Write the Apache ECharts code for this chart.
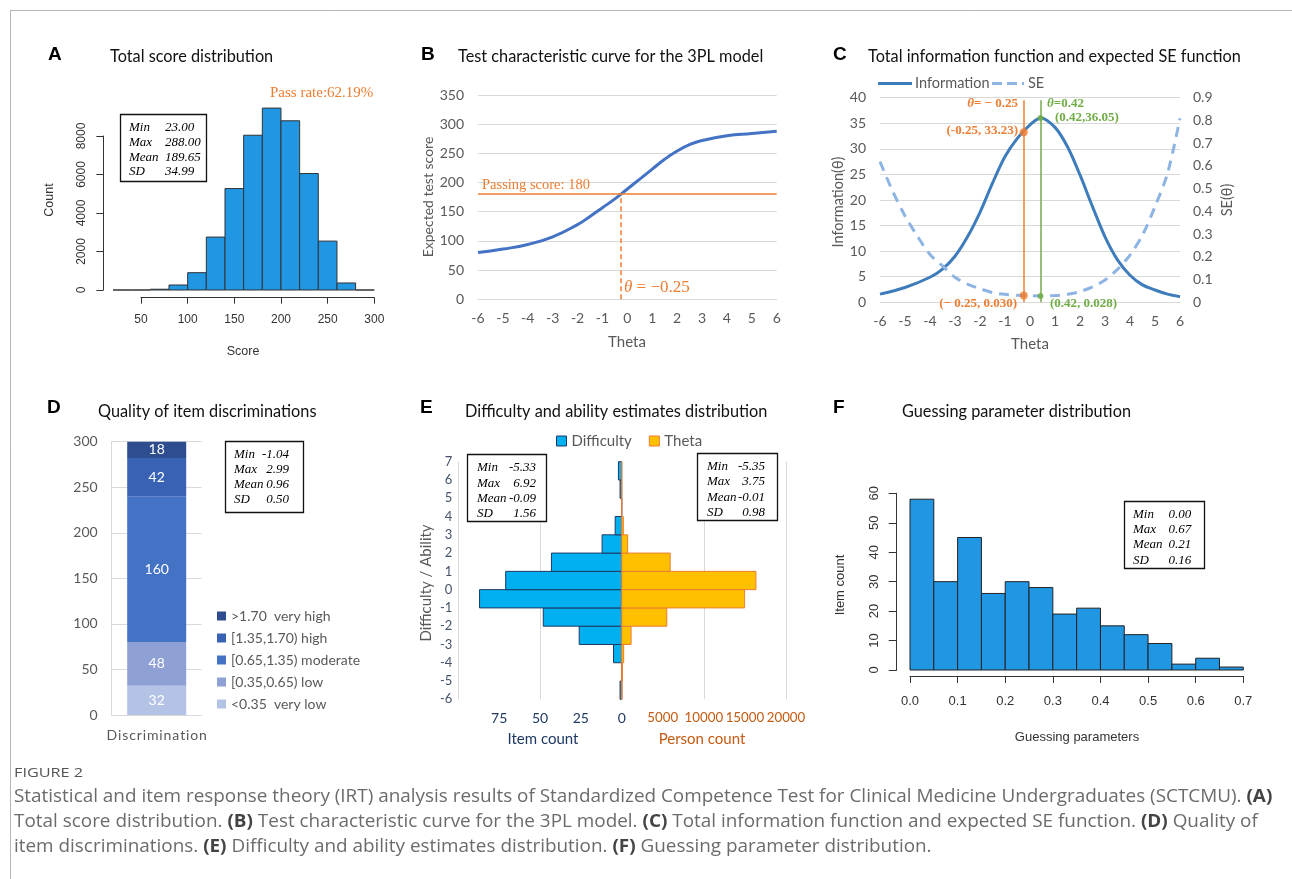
<!DOCTYPE html>
<html>
<head>
<meta charset="utf-8">
<script src="https://cdn.jsdelivr.net/npm/echarts@6.0.0/dist/echarts.min.js"></script>
<style>
  html, body { margin: 0; padding: 0; background: #fff; }
  #chart { width: 1292px; height: 879px; }
</style>
</head>
<body>
<div id="chart"></div>
<script>
// ---- A: total score histogram
const scoreBinStart = [20, 40, 60, 80, 100, 120, 140, 160, 180, 200, 220, 240, 260, 280];
const scoreBinWidth = 20;
const scoreCounts = [0, 0, 40, 260, 900, 2750, 5270, 8040, 9450, 8790, 6050, 2540, 365, 0];
const passScore = 180;

// ---- B: test characteristic curve
const tccTheta = [-6, -5, -4, -3, -2, -1.5, -1, -0.5, 0, 0.5, 1, 1.5, 2, 2.5, 3, 4, 5, 6];
const tccScore = [80, 86, 94, 107, 128, 142, 157, 172, 189, 206, 223, 240, 254, 265, 272, 280, 284, 288];
const passTheta = -0.25;

// ---- C: information and SE
const infoTheta = [-6, -5, -4, -3.5, -3, -2.5, -2, -1.5, -1, -0.5, 0, 0.42, 1, 1.5, 2, 2.5, 3, 3.5, 4, 4.5, 5, 5.5, 6];
const infoValue = [1.6, 2.9, 4.9, 6.5, 9.0, 12.8, 17.6, 23.3, 28.5, 32.1, 34.7, 36.05, 34.2, 30.4, 24.9, 18.7, 12.8, 8.3, 5.3, 3.4, 2.4, 1.6, 1.1];
const seTheta = [-6, -5.5, -5, -4.5, -4, -3.5, -3, -2.5, -2, -1.5, -1, -0.5, -0.25, 0, 0.42, 1, 1.5, 2, 2.5, 3, 3.5, 4, 4.5, 5, 5.5, 6];
const seValue = [0.619, 0.49, 0.38, 0.29, 0.21, 0.16, 0.11, 0.08, 0.06, 0.043, 0.035, 0.031, 0.030, 0.029, 0.028, 0.030, 0.035, 0.047, 0.068, 0.098, 0.145, 0.208, 0.296, 0.421, 0.567, 0.809];
const peakTheta = 0.42;
const infoMarks = [[-0.25, 33.23], [0.42, 36.05]];
const seMarks = [[-0.25, 0.030], [0.42, 0.028]];

// ---- D: discrimination quality (bottom to top)
const discNames = ['<0.35  very low', '[0.35,0.65) low', '[0.65,1.35) moderate', '[1.35,1.70) high', '>1.70  very high'];
const discCounts = [32, 48, 160, 42, 18];
const discColors = ['#B4C2E6', '#8FA0D4', '#4472C4', '#3A62B4', '#2E4D8E'];

// ---- E: difficulty / theta distributions (bins of width 1)
const binLow = [-6, -5, -4, -3, -2, -1, 0, 1, 2, 3, 4, 5, 6];
const difficultyCount = [1, 0, 5, 26, 48, 87, 71, 43, 12, 4, 0, 1, 2];
const thetaCount = [40, 80, 240, 1140, 5490, 14960, 16340, 5900, 730, 200, 0, 0, 0];

// ---- F: guessing parameter histogram
const guessBinStart = [0, 0.05, 0.1, 0.15, 0.2, 0.25, 0.3, 0.35, 0.4, 0.45, 0.5, 0.55, 0.6, 0.65];
const guessBinWidth = 0.05;
const guessCounts = [58, 30, 45, 26, 30, 28, 19, 21, 15, 12, 9, 2, 4, 1];

// ---- summary boxes
const statNames = ['Min', 'Max', 'Mean', 'SD'];
const statsA = ['23.00', '288.00', '189.65', '34.99'];
const statsD = ['-1.04', '2.99', '0.96', '0.50'];
const statsEdiff = ['-5.33', '6.92', '-0.09', '1.56'];
const statsEtheta = ['-5.35', '3.75', '-0.01', '0.98'];
const statsF = ['0.00', '0.67', '0.21', '0.16'];

const ORANGE = '#ED7D31', GREEN = '#70AD47', GREY = '#595959', GRID = '#D9D9D9';
const HIST = '#2196E3', INFO = '#3E7CBB', SECOL = '#8DB4E2';

function histData(starts, width, counts) {
  return starts.map((s, i) => [s, +(s + width).toFixed(4), counts[i]]);
}

function histItem(fill, stroke, horizontal) {
  return function (params, api) {
    const lo = api.value(0), hi = api.value(1), n = api.value(2);
    const a = horizontal ? api.coord([0, lo]) : api.coord([lo, 0]);
    const b = horizontal ? api.coord([n, hi]) : api.coord([hi, n]);
    return {
      type: 'rect',
      shape: { x: Math.min(a[0], b[0]), y: Math.min(a[1], b[1]), width: Math.abs(b[0] - a[0]), height: Math.abs(b[1] - a[1]) },
      style: { fill: fill, stroke: stroke, lineWidth: 1 }
    };
  };
}

function T(x, y, text, o) {
  o = o || {};
  const st = {
    text: text, fill: o.color || '#000', fontSize: o.size || 14, fontFamily: o.family || 'Lato',
    fontWeight: o.weight || 'normal', fontStyle: o.italic ? 'italic' : 'normal',
    align: o.align || 'left', verticalAlign: 'middle'
  };
  if (o.rich) st.rich = o.rich;
  return { type: 'text', x: x, y: y, rotation: o.rot || 0, scaleX: o.sx || 1, z: 100, style: st };
}

function statBox(x, y, w, h, labelX, valX, valAlign, rowYs, values) {
  const out = [{ type: 'rect', z: 99, shape: { x: x, y: y, width: w, height: h },
    style: { fill: '#fff', stroke: '#111', lineWidth: 1.3 } }];
  statNames.forEach((n, i) => {
    out.push(T(labelX, rowYs[i], n, { family: 'Liberation Serif', italic: true, size: 13 }));
    out.push(T(valX, rowYs[i], values[i], { family: 'Liberation Serif', italic: true, size: 13, align: valAlign }));
  });
  return out;
}

const plain = v => String(v);
const excelLabel = (size, margin, color) => ({ color: color || GREY, fontFamily: 'Lato', fontSize: size, margin: margin, formatter: plain });
const hiddenAxis = (gi, min, max) => ({ type: 'value', gridIndex: gi, min: min, max: max, show: false });
const rAxis = (gi, min, max, interval, pos, size, tick, margin) => ({
  type: 'value', gridIndex: gi, min: min, max: max, interval: interval, position: pos,
  axisLine: { show: true, onZero: false, lineStyle: { color: '#333', width: 1 } },
  axisTick: { show: true, length: tick, lineStyle: { color: '#333', width: 1 } },
  axisLabel: { color: '#333', fontFamily: 'Liberation Sans', fontSize: size, margin: margin, formatter: plain },
  splitLine: { show: false }
});

const grids = [
  { left: 113, top: 97.5, width: 261.3, height: 192.5 },   // 0 A bars
  { left: 141, top: 290, width: 233.3, height: 7.7 },      // 1 A x axis
  { left: 103.3, top: 136, width: 10, height: 154 },       // 2 A y axis
  { left: 478, top: 95, width: 298.7, height: 204.3 },     // 3 B
  { left: 880, top: 97.7, width: 300, height: 204.6 },     // 4 C
  { left: 111.7, top: 441.7, width: 90, height: 273.3 },   // 5 D
  { left: 458.3, top: 461.7, width: 163.4, height: 237.6 },// 6 E left
  { left: 621.7, top: 461.7, width: 164.3, height: 237.6 },// 7 E right
  { left: 910, top: 478.6, width: 333.3, height: 191.4 },  // 8 F bars
  { left: 910, top: 670, width: 333.3, height: 6 },        // 9 F x axis
  { left: 896.7, top: 493.3, width: 10, height: 176.7 }    // 10 F y axis
].map(g => Object.assign({ containLabel: false, outerBoundsMode: 'none' }, g));

const xAxes = [
  hiddenAxis(0, 20, 300),
  rAxis(1, 50, 300, 50, 'bottom', 12, 6, 16),
  hiddenAxis(2, 0, 1),
  { type: 'value', gridIndex: 3, min: -6, max: 6, interval: 1,
    axisLine: { show: true, onZero: false, lineStyle: { color: GRID } }, axisTick: { show: false },
    axisLabel: excelLabel(14, 12), splitLine: { show: false } },
  { type: 'value', gridIndex: 4, min: -6, max: 6, interval: 1,
    axisLine: { show: true, onZero: false, lineStyle: { color: GRID } }, axisTick: { show: false },
    axisLabel: excelLabel(14, 12), splitLine: { show: false } },
  { type: 'category', gridIndex: 5, data: ['Discrimination'],
    axisLine: { show: false }, axisTick: { show: false },
    axisLabel: Object.assign(excelLabel(14, 13), { formatter: v => v.split('').join('\u200A') }) },
  { type: 'value', gridIndex: 6, min: 0, max: 100, interval: 25, inverse: true,
    axisLine: { show: false }, axisTick: { show: false },
    axisLabel: Object.assign(excelLabel(14, 12, '#1F3864'), { showMaxLabel: false, hideOverlap: false }), splitLine: { show: false } },
  { type: 'value', gridIndex: 6, min: 0, max: 100, interval: 50, inverse: true, position: 'bottom',
    axisLine: { show: false }, axisTick: { show: false }, axisLabel: { show: false },
    splitLine: { show: true, showMinLine: false, lineStyle: { color: GRID } } },
  { type: 'value', gridIndex: 7, min: 0, max: 20000, interval: 5000,
    axisLine: { show: false }, axisTick: { show: false },
    axisLabel: Object.assign(excelLabel(13.3, 12, '#C55A11'), { showMinLabel: false, showMaxLabel: true, hideOverlap: false }), splitLine: { show: false } },
  { type: 'value', gridIndex: 7, min: 0, max: 20000, interval: 10000, position: 'bottom',
    axisLine: { show: false }, axisTick: { show: false }, axisLabel: { show: false },
    splitLine: { show: true, showMinLine: false, lineStyle: { color: GRID } } },
  hiddenAxis(8, 0, 0.7),
  rAxis(9, 0, 0.7, 0.1, 'bottom', 13, 7, 19),
  hiddenAxis(10, 0, 1)
];
xAxes[11].axisLabel.formatter = v => v.toFixed(1);

const yAxes = [
  hiddenAxis(0, 0, 10000),
  hiddenAxis(1, 0, 1),
  rAxis(2, 0, 8000, 2000, 'left', 12, 7, 16),
  { type: 'value', gridIndex: 3, min: 0, max: 350, interval: 50,
    axisLine: { show: false }, axisTick: { show: false }, axisLabel: excelLabel(14, 14),
    splitLine: { show: true, lineStyle: { color: GRID } } },
  { type: 'value', gridIndex: 4, min: 0, max: 40, interval: 5,
    axisLine: { show: false }, axisTick: { show: false }, axisLabel: excelLabel(14, 14),
    splitLine: { show: true, lineStyle: { color: GRID } } },
  { type: 'value', gridIndex: 4, min: 0, max: 0.9, interval: 0.1, position: 'right',
    axisLine: { show: false }, axisTick: { show: false },
    axisLabel: Object.assign(excelLabel(14, 13), { formatter: v => String(Math.round(v * 10) / 10) }),
    splitLine: { show: false } },
  { type: 'value', gridIndex: 5, min: 0, max: 300, interval: 50,
    axisLine: { show: true, lineStyle: { color: GRID } }, axisTick: { show: false }, axisLabel: excelLabel(14, 14),
    splitLine: { show: true, lineStyle: { color: GRID } } },
  { type: 'value', gridIndex: 6, min: -6, max: 7, interval: 1,
    axisLine: { show: false }, axisTick: { show: false }, axisLabel: excelLabel(13, 6, '#44546A'),
    splitLine: { show: false } },
  hiddenAxis(7, -6, 7),
  hiddenAxis(8, 0, 65),
  hiddenAxis(9, 0, 1),
  rAxis(10, 0, 60, 10, 'left', 13, 8, 16)
];
yAxes[2].axisLabel.rotate = 90;
yAxes[11].axisLabel.rotate = 90;

const series = [
  { name: 'Score', type: 'custom', xAxisIndex: 0, yAxisIndex: 0, clip: false,
    renderItem: histItem(HIST, '#333', false), encode: { x: [0, 1], y: 2 },
    data: histData(scoreBinStart, scoreBinWidth, scoreCounts),
    markLine: { silent: true, symbol: 'none', label: { show: false },
      lineStyle: { color: ORANGE, width: 2, type: 'solid' },
      data: [[{ coord: [passScore, -415] }, { coord: [passScore, 10560] }]] } },
  { name: 'TCC', type: 'line', xAxisIndex: 3, yAxisIndex: 3, smooth: 0.5, symbol: 'none',
    lineStyle: { color: '#4472C4', width: 3 },
    data: tccTheta.map((t, i) => [t, tccScore[i]]),
    markLine: { silent: true, symbol: 'none', label: { show: false },
      data: [
        { yAxis: passScore, lineStyle: { color: ORANGE, width: 1.5, type: 'solid' } },
        [{ coord: [passTheta, 0], lineStyle: { color: ORANGE, width: 1.5, type: [5, 3] } }, { coord: [passTheta, passScore] }]
      ] } },
  { name: 'Information', type: 'line', xAxisIndex: 4, yAxisIndex: 4, smooth: 0.3, symbol: 'none',
    color: INFO, lineStyle: { color: INFO, width: 3 },
    data: infoTheta.map((t, i) => [t, infoValue[i]]),
    markLine: { silent: true, symbol: 'none', label: { show: false },
      data: [
        [{ coord: [passTheta, 0], lineStyle: { color: ORANGE, width: 1.5, type: 'solid' } }, { coord: [passTheta, 39.5] }],
        [{ coord: [peakTheta, 0], lineStyle: { color: GREEN, width: 1.5, type: 'solid' } }, { coord: [peakTheta, 39.5] }]
      ] } },
  { name: 'SE', type: 'line', xAxisIndex: 4, yAxisIndex: 5, smooth: 0.3, symbol: 'none',
    color: SECOL, lineStyle: { color: SECOL, width: 3, type: [10, 7] },
    data: seTheta.map((t, i) => [t, seValue[i]]) },
  { name: 'infoMarks', type: 'scatter', xAxisIndex: 4, yAxisIndex: 4, z: 5, silent: true,
    data: infoMarks.map((p, i) => ({ value: p, symbolSize: i ? 6 : 8, itemStyle: { color: i ? GREEN : ORANGE } })) },
  { name: 'seMarks', type: 'scatter', xAxisIndex: 4, yAxisIndex: 5, z: 5, silent: true,
    data: seMarks.map((p, i) => ({ value: p, symbolSize: i ? 6 : 8, itemStyle: { color: i ? GREEN : ORANGE } })) }
];

discNames.forEach((n, i) => series.push({
  name: n, type: 'bar', xAxisIndex: 5, yAxisIndex: 6, stack: 'disc', barWidth: 59,
  itemStyle: { color: discColors[i] },
  label: { show: true, position: 'inside', color: '#fff', fontFamily: 'Lato', fontSize: 14 },
  data: [discCounts[i]]
}));

series.push(
  { name: 'Difficulty', type: 'custom', xAxisIndex: 6, yAxisIndex: 7,
    itemStyle: { color: '#00B0F0' }, renderItem: histItem('#00B0F0', '#1F3864', true), encode: { x: 2, y: [0, 1] },
    data: histData(binLow, 1, difficultyCount) },
  { name: 'Theta', type: 'custom', xAxisIndex: 8, yAxisIndex: 8,
    itemStyle: { color: '#FFC000' }, renderItem: histItem('#FFC000', ORANGE, true), encode: { x: 2, y: [0, 1] },
    data: histData(binLow, 1, thetaCount) },
  { name: 'Guessing', type: 'custom', xAxisIndex: 10, yAxisIndex: 9,
    renderItem: histItem(HIST, '#222', false), encode: { x: [0, 1], y: 2 },
    data: histData(guessBinStart, guessBinWidth, guessCounts) }
);

const legends = [
  { data: discNames.slice().reverse(), orient: 'vertical', left: 217, top: 609, itemWidth: 9, itemHeight: 9,
    itemGap: 8, icon: 'rect', padding: 0, selectedMode: false,
    textStyle: { color: GREY, fontFamily: 'Lato', fontSize: 14, lineHeight: 14 } },
  { data: [
      { name: 'Difficulty', itemStyle: { color: '#00B0F0', borderColor: '#1F3864', borderWidth: 1 } },
      { name: 'Theta', itemStyle: { color: '#FFC000', borderColor: ORANGE, borderWidth: 1 } }
    ], left: 556, top: 433.5, itemWidth: 10, itemHeight: 10, itemGap: 17, icon: 'rect', padding: 0,
    selectedMode: false, textStyle: { color: GREY, fontFamily: 'Lato', fontSize: 15 } }
];

const R = Math.PI / 2;
const serifB = { family: 'Liberation Serif', weight: 'bold', size: 13 };
const capRich = { b: { fontFamily: 'Open Sans', fontSize: 17.5, fontWeight: 'bold', fill: '#444' } };
const cap = (y, s) => T(14, y, s, { family: 'Open Sans', size: 17.5, color: '#6b6b6b', rich: capRich, sx: 1.08 });
const TITLE = { size: 16.3, color: '#111' };
const thetaRich = c => ({ i: { fontFamily: 'Liberation Serif', fontSize: 13, fontWeight: 'bold', fontStyle: 'italic', fill: c } });

const graphics = [
  { type: 'line', shape: { x1: 10, y1: 10.5, x2: 1292, y2: 10.5 }, style: { stroke: '#b5b5b5', lineWidth: 1 } },
  { type: 'line', shape: { x1: 10.5, y1: 10, x2: 10.5, y2: 879 }, style: { stroke: '#b5b5b5', lineWidth: 1 } },
  // panel letters
  T(48, 55, 'A', { family: 'Liberation Sans', weight: 'bold', size: 19 }),
  T(421, 55, 'B', { family: 'Liberation Sans', weight: 'bold', size: 19 }),
  T(833, 55, 'C', { family: 'Liberation Sans', weight: 'bold', size: 19 }),
  T(47, 408, 'D', { family: 'Liberation Sans', weight: 'bold', size: 19 }),
  T(420, 408, 'E', { family: 'Liberation Sans', weight: 'bold', size: 19 }),
  T(833, 408, 'F', { family: 'Liberation Sans', weight: 'bold', size: 19 }),
  // titles
  T(110, 57, 'Total score distribution', TITLE),
  T(458, 57, 'Test characteristic curve for the 3PL model', TITLE),
  T(868, 57, 'Total information function and expected SE function', TITLE),
  T(98, 412, 'Quality of item discriminations', TITLE),
  T(465, 412, 'Difficulty and ability estimates distribution', TITLE),
  T(902, 412, 'Guessing parameter distribution', TITLE),
  // A
  T(270, 93, 'Pass rate:62.19%', { family: 'Liberation Serif', size: 15, color: ORANGE }),
  T(50, 200, 'Count', { family: 'Liberation Sans', size: 12.5, color: '#333', align: 'center', rot: R }),
  T(243, 352, 'Score', { family: 'Liberation Sans', size: 12.5, color: '#333', align: 'center' }),
  // B
  T(482, 185, 'Passing score: 180', { family: 'Liberation Serif', size: 14.5, color: ORANGE }),
  T(624, 288, '{i|θ} = −0.25', { family: 'Liberation Serif', size: 17, color: ORANGE,
    rich: { i: { fontFamily: 'Liberation Serif', fontSize: 17, fontStyle: 'italic', fill: ORANGE } } }),
  T(428, 197, 'Expected test score', { size: 14, color: GREY, align: 'center', rot: R }),
  T(627, 342, 'Theta', { size: 15, color: GREY, align: 'center' }),
  // C legend
  { type: 'line', z: 100, shape: { x1: 878, y1: 83.5, x2: 912, y2: 83.5 }, style: { stroke: INFO, lineWidth: 3 } },
  T(915, 83.5, 'Information', { size: 14.5, color: GREY }),
  { type: 'line', z: 100, shape: { x1: 992, y1: 83.5, x2: 1024, y2: 83.5 }, style: { stroke: SECOL, lineWidth: 3, lineDash: [10, 5] } },
  T(1028, 83.5, 'SE', { size: 14.5, color: GREY }),
  // C labels
  T(838, 202, 'Information(θ)', { size: 14.5, color: GREY, align: 'center', rot: R }),
  T(1227, 200, 'SE(θ)', { size: 14.5, color: GREY, align: 'center', rot: R }),
  T(1030, 344, 'Theta', { size: 15, color: GREY, align: 'center' }),
  T(1018, 104, '{i|θ}= − 0.25', Object.assign({ color: ORANGE, align: 'right', rich: thetaRich(ORANGE) }, serifB)),
  T(1047, 104, '{i|θ}=0.42', Object.assign({ color: GREEN, rich: thetaRich(GREEN) }, serifB)),
  T(1055, 118, '(0.42,36.05)', Object.assign({ color: GREEN }, serifB)),
  T(1018, 131, '(-0.25, 33.23)', Object.assign({ color: ORANGE, align: 'right' }, serifB)),
  T(1017, 304, '(− 0.25, 0.030)', Object.assign({ color: ORANGE, align: 'right' }, serifB)),
  T(1050, 304, '(0.42, 0.028)', Object.assign({ color: GREEN }, serifB)),
  // E
  T(426, 583, 'Difficulty / Ability', { size: 15, color: GREY, align: 'center', rot: R }),
  T(543, 739, 'Item count', { size: 15, color: '#1F3864', align: 'center' }),
  T(702, 739, 'Person count', { size: 15, color: '#C55A11', align: 'center' }),
  // F
  T(840, 585, 'Item count', { family: 'Liberation Sans', size: 13, color: '#333', align: 'center', rot: R }),
  T(1077, 737, 'Guessing parameters', { family: 'Liberation Sans', size: 13, color: '#333', align: 'center' }),
  // caption
  T(14, 773, 'FIGURE 2', { family: 'Open Sans', size: 13, color: '#555', sx: 1.25 }),
  cap(797, 'Statistical and item response theory (IRT) analysis results of Standardized Competence Test for Clinical Medicine Undergraduates (SCTCMU). {b|(A)}'),
  cap(822, 'Total score distribution. {b|(B)} Test characteristic curve for the 3PL model. {b|(C)} Total information function and expected SE function. {b|(D)} Quality of'),
  cap(847, 'item discriminations. {b|(E)} Difficulty and ability estimates distribution. {b|(F)} Guessing parameter distribution.')
].concat(
  statBox(120.5, 114.5, 86, 67, 129, 165, 'left', [128, 142.7, 157.4, 172], statsA),
  statBox(225.5, 441.5, 78, 71, 234, 289, 'right', [454.3, 469.5, 485, 500], statsD),
  statBox(467.5, 454.5, 79, 67, 477, 536, 'right', [467.7, 483.3, 498.3, 513.3], statsEdiff),
  statBox(697.5, 453.5, 80, 67, 707, 765, 'right', [466.7, 481.7, 497.3, 512.7], statsEtheta),
  statBox(1124.5, 501.5, 80, 67, 1133, 1168.5, 'left', [515, 530, 545, 560.7], statsF)
);

const chart = echarts.init(document.getElementById('chart'));
chart.setOption({
  animation: false,
  backgroundColor: '#fff',
  grid: grids,
  xAxis: xAxes,
  yAxis: yAxes,
  legend: legends,
  series: series,
  graphic: graphics
});
</script>
</body>
</html>
